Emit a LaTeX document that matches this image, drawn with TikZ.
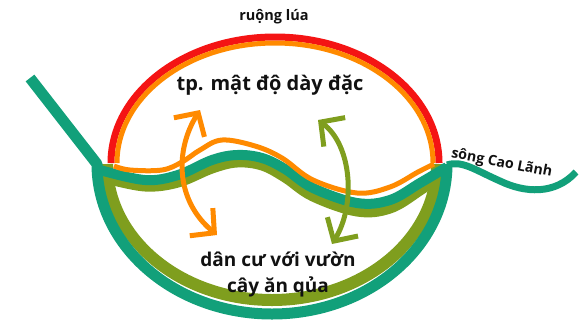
\documentclass[tikz,border=0pt]{standalone}
\usepackage{fontspec}
\setmainfont{Open Sans}
\usetikzlibrary{arrows.meta}
\definecolor{sd-red}{HTML}{F41414}
\definecolor{sd-orange}{HTML}{FF8A00}
\definecolor{sd-teal}{HTML}{12A07A}
\definecolor{sd-olive}{HTML}{7F9E1E}
\definecolor{sd-text}{HTML}{111111}

\begin{document}
\begin{tikzpicture}[x=1pt, y=1pt, line join=round]

  % Styles for the site sketch
  \tikzset{
    ricefield/.style={draw=sd-red, line width=7pt},
    cityedge/.style={draw=sd-orange, line width=5pt},
    riverline/.style={draw=sd-teal, line width=10pt},
    gardenbelt/.style={draw=sd-olive, line width=10pt},
    swaparrow/.style={line width=5pt,
      {Straight Barb[length=17pt,width=36pt]}-{Straight Barb[length=17pt,width=36pt]}},
    maptext/.style={font=\bfseries, text=sd-text, inner sep=0pt}
  }

  \useasboundingbox (0,0) rectangle (585,-322);

  % Garden belt (lower half) and its edge under the river
  \draw[gardenbelt, line width=12pt] (107,-164)
    arc[start angle=180, end angle=360, x radius=165, y radius=136];
  \draw[gardenbelt, line width=11pt] plot[smooth, tension=0.6] coordinates {
    (106,-178) (145,-186) (178,-182) (212,-168) (237,-162) (262,-165)
    (285,-177) (313,-196) (357,-211) (390,-208) (420,-190) (442,-174)};

  % River: left arm, outer ring, middle wave, right arm
  \draw[riverline, line width=11pt] (30,-78) -- (97,-164)
    arc[start angle=180, end angle=360, x radius=175, y radius=150];
  \draw[riverline] plot[smooth, tension=0.6] coordinates {
    (100,-170) (145,-180) (178,-175) (212,-160) (237,-155) (262,-158)
    (285,-169) (313,-188) (357,-203) (390,-200) (420,-183) (447,-167)};
  \draw[riverline, line width=7pt] (447,-165)
    .. controls (462,-160) and (475,-170) .. (500,-181)
    .. controls (525,-193) and (555,-195) .. (576,-172);

  % Rice field rim and city edge (upper half)
  \draw[ricefield] (111,-163)
    arc[start angle=180, end angle=0, x radius=164, y radius=126];
  \draw[cityedge] (117,-163)
    arc[start angle=180, end angle=0, x radius=158, y radius=120];
  \draw[cityedge] plot[smooth, tension=0.6] coordinates {
    (114,-166) (130,-170) (162,-170) (182,-162) (200,-150) (222,-140)
    (255,-146) (282,-158) (313,-180) (357,-193) (390,-187) (418,-172) (434,-164)};

  % Exchange arrows
  \draw[swaparrow, sd-orange] (200,-110)
    .. controls (175,-150) and (175,-200) .. (217,-235);
  \draw[swaparrow, sd-olive] (318,-120)
    .. controls (352,-145) and (356,-205) .. (332,-244);

  % Labels
  \node[maptext, font=\bfseries\fontsize{14.5}{17}\selectfont, anchor=base]
    (rice) at (274,-20) {ruộng lúa};
  \node[maptext, font=\bfseries\fontsize{20}{24}\selectfont, anchor=base]
    (city) at (270,-90) {tp. mật độ dày đặc};
  \node[maptext, font=\bfseries\fontsize{19}{26}\selectfont, align=center]
    (village) at (278,-274) {dân cư với vườn\\cây ăn qủa};
  \node[maptext, font=\bfseries\fontsize{14.2}{17}\selectfont, anchor=base, rotate=-11]
    (river) at (501,-167) {sông Cao Lãnh};

\end{tikzpicture}
\end{document}
